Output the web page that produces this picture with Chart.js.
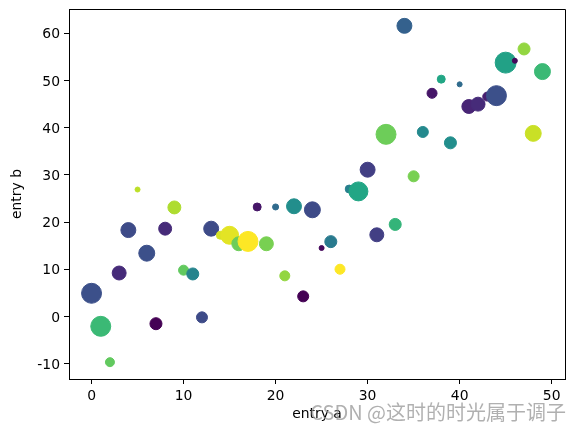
<!DOCTYPE html>
<html>
<head>
<meta charset="utf-8">
<script src="https://cdn.jsdelivr.net/npm/chart.js@4.4.0/dist/chart.umd.min.js"></script>
<style>
html, body { margin: 0; padding: 0; background: #fff; }
#wrap { width: 574px; height: 432px; }
</style>
</head>
<body>
<div id="wrap"><canvas id="chart" width="574" height="432"></canvas></div>
<script>
// Data
const entryA = [0, 1, 2, 3, 4, 5, 6, 7, 8, 9, 10, 11, 12, 13, 14, 15, 16, 17, 18, 19,
    20, 21, 22, 23, 24, 25, 26, 27, 28, 29, 30, 31, 32, 33, 34, 35, 36, 37, 38, 39,
    40, 41, 42, 43, 44, 45, 46, 47, 48, 49];
const entryB = [4.9, -2.1, -9.7, 9.2, 18.3, 26.9, 13.4, -1.55, 18.6, 23.1,
    9.8, 9.0, -0.2, 18.6, 17.2, 17.2, 15.4, 15.9, 23.2, 15.4,
    23.2, 8.6, 23.35, 4.25, 22.6, 14.5, 15.85, 10.0, 27.0, 26.5,
    31.1, 17.3, 38.6, 19.5, 61.6, 29.7, 39.1, 47.3, 50.3, 36.8,
    49.2, 44.5, 45.0, 46.6, 46.8, 53.8, 54.2, 56.7, 38.8, 51.9];
// colour value (c) for each point
const entryC = [12, 33, 37, 6, 11, 44, 12, 0, 6, 43,
    37, 22, 11, 11, 46, 47, 38, 49, 3, 39,
    17, 41, 24, 0, 11, 1, 20, 49, 21, 29,
    9, 9, 38, 32, 15, 39, 23, 3, 29, 24,
    17, 5, 6, 4, 12, 28, 1, 41, 45, 33];
// marker area (d, in pt^2)
const entryD = [207, 207, 42, 101, 116, 13, 132, 75, 87, 87,
    52, 75, 63, 116, 33, 168, 101, 207, 33, 101,
    19, 52, 116, 63, 132, 13, 75, 52, 33, 187,
    116, 101, 207, 75, 116, 63, 63, 52, 33, 75,
    13, 101, 101, 42, 207, 228, 13, 75, 132, 132];

const xTicks = [0, 10, 20, 30, 40, 50];
const yTicks = [-10, 0, 10, 20, 30, 40, 50, 60];

// viridis stops
const viridis = ['#440154', '#482475', '#414487', '#355f8d', '#2a788e', '#21918c',
    '#22a884', '#44bf70', '#7ad151', '#bddf26', '#fde725'];

function hexToRgb(h) {
    return [parseInt(h.slice(1, 3), 16), parseInt(h.slice(3, 5), 16), parseInt(h.slice(5, 7), 16)];
}

function viridisColor(t) {
    t = Math.max(0, Math.min(1, t));
    const pos = t * (viridis.length - 1);
    const i = Math.min(Math.floor(pos), viridis.length - 2);
    const f = pos - i;
    const a = hexToRgb(viridis[i]);
    const b = hexToRgb(viridis[i + 1]);
    const c = a.map((v, k) => Math.round(v + (b[k] - v) * f));
    return `rgb(${c[0]}, ${c[1]}, ${c[2]})`;
}

const cMin = Math.min(...entryC);
const cMax = Math.max(...entryC);
const pointColors = entryC.map(c => viridisColor((c - cMin) / (cMax - cMin)));
// matplotlib size is area in pt^2, dpi 100
const pointRadii = entryD.map(d => Math.sqrt(d) / 2 * 100 / 72);

const points = entryA.map((a, i) => ({ x: a, y: entryB[i] }));

// axes frame, titles and watermark
const framePlugin = {
    id: 'frame',
    afterDraw(chart) {
        const { ctx, chartArea } = chart;
        ctx.save();
        ctx.strokeStyle = '#000';
        ctx.lineWidth = 1;
        ctx.beginPath();
        ctx.moveTo(chartArea.left, chartArea.top + 0.5);
        ctx.lineTo(chartArea.right + 0.5, chartArea.top + 0.5);
        ctx.lineTo(chartArea.right + 0.5, chartArea.bottom);
        ctx.stroke();

        ctx.fillStyle = '#000';
        ctx.font = '13.9px "DejaVu Sans"';
        ctx.textAlign = 'center';
        ctx.textBaseline = 'middle';
        ctx.fillText('entry a', (chartArea.left + chartArea.right) / 2, 414);
        ctx.translate(17, (chartArea.top + chartArea.bottom) / 2);
        ctx.rotate(-Math.PI / 2);
        ctx.fillText('entry b', 0, 0);
        ctx.restore();

        ctx.save();
        ctx.fillStyle = 'rgba(150, 150, 150, 0.75)';
        ctx.font = '20px "Noto Sans CJK SC"';
        ctx.textAlign = 'right';
        ctx.textBaseline = 'middle';
        ctx.fillText('CSDN @这时的时光属于调子', 566, 412);
        ctx.restore();
    }
};

Chart.defaults.color = '#000';
Chart.defaults.font.family = '"DejaVu Sans"';
Chart.defaults.font.size = 13.9;

new Chart(document.getElementById('chart'), {
    type: 'scatter',
    data: {
        datasets: [{
            data: points,
            backgroundColor: pointColors,
            borderColor: pointColors,
            borderWidth: 1,
            pointRadius: pointRadii,
            pointHoverRadius: pointRadii
        }]
    },
    options: {
        responsive: false,
        animation: false,
        devicePixelRatio: 1,
        layout: { autoPadding: false, padding: { left: 0, right: 9, top: 9, bottom: 0 } },
        plugins: { legend: { display: false }, tooltip: { enabled: false } },
        scales: {
            x: {
                type: 'linear',
                min: -2.45,
                max: 51.45,
                afterBuildTicks: axis => { axis.ticks = xTicks.map(v => ({ value: v })); },
                afterFit: scale => {
                    scale.height = 53;
                    scale.paddingLeft = 0;
                    scale.paddingRight = 0;
                },
                ticks: { padding: 4, maxRotation: 0 },
                grid: { drawOnChartArea: false, drawTicks: true, tickLength: 5, color: '#000', lineWidth: 1 },
                border: { display: true, color: '#000', width: 1 }
            },
            y: {
                type: 'linear',
                min: -13.27,
                max: 65.17,
                afterBuildTicks: axis => { axis.ticks = yTicks.map(v => ({ value: v })); },
                afterFit: scale => {
                    scale.width = 69;
                    scale.paddingTop = 0;
                    scale.paddingBottom = 0;
                },
                ticks: { padding: 4, labelOffset: 1.5 },
                grid: { drawOnChartArea: false, drawTicks: true, tickLength: 5, color: '#000', lineWidth: 1 },
                border: { display: true, color: '#000', width: 1 }
            }
        }
    },
    plugins: [framePlugin]
});
</script>
</body>
</html>
